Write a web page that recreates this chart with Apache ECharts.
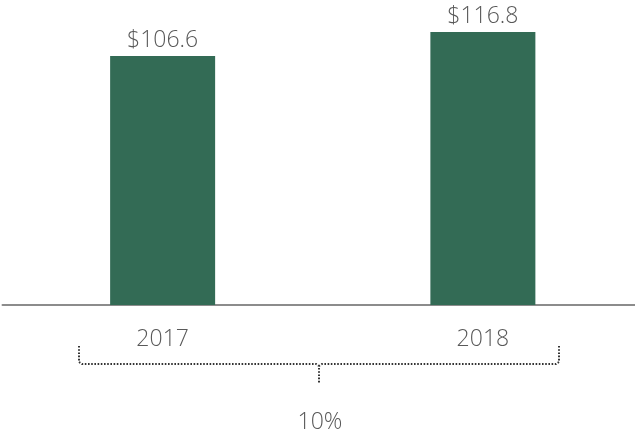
<!DOCTYPE html>
<html>
<head>
<meta charset="utf-8">
<script src="https://cdn.jsdelivr.net/npm/echarts@6/dist/echarts.min.js"></script>
<style>
  html, body { margin: 0; padding: 0; background: #fff; overflow: hidden; }
  #chart { width: 643px; height: 433px; }
</style>
</head>
<body>
<div id="chart"></div>
<script>
// Revenue by year, $ billions
const years = ['2017', '2018'];
const revenue = [106.6, 116.8];
const growthLabel = '10%';

const FONT = "'Open Sans', 'Noto Sans', sans-serif";
const TEXT_COLOR = '#595959';

const chart = echarts.init(document.getElementById('chart'), null, { renderer: 'canvas' });

const option = {
  animation: false,
  grid: { left: 2.5, right: 0, top: 24.6, bottom: 128 },
  xAxis: {
    type: 'category',
    data: years,
    axisLine: { lineStyle: { color: '#8c8c8c', width: 2 } },
    axisTick: { show: false },
    axisLabel: { color: TEXT_COLOR, fontFamily: FONT, fontWeight: 300, fontSize: 23, margin: 23 }
  },
  yAxis: {
    type: 'value',
    min: 0,
    max: 120,
    show: false,
    splitLine: { show: false }
  },
  series: [{
    type: 'bar',
    data: revenue,
    barWidth: 105,
    itemStyle: { color: '#336b55' },
    label: {
      show: true,
      position: 'top',
      distance: 4,
      color: TEXT_COLOR,
      fontFamily: FONT,
      fontWeight: 300,
      fontSize: 23,
      formatter: p => '$' + p.value.toFixed(1)
    }
  }]
};
chart.setOption(option);

// Dotted brace spanning both years, with the growth rate beneath it
const dot = { stroke: '#333', lineWidth: 2, lineDash: [1.6, 1.6] };
const leftX = 79, rightX = 559, midX = 319;
const topY = 346, barY = 364, tipY = 383;
chart.setOption({
  graphic: [
    { type: 'polyline', shape: { points: [[leftX, topY], [leftX, barY - 2], [leftX + 3, barY], [midX - 3, barY], [midX, barY + 2], [midX, tipY]] }, style: Object.assign({ fill: null }, dot) },
    { type: 'polyline', shape: { points: [[rightX, topY], [rightX, barY - 2], [rightX - 3, barY], [midX + 3, barY], [midX, barY + 2]] }, style: Object.assign({ fill: null }, dot) },
    { type: 'text', x: 320, y: 411, style: { text: growthLabel, fill: TEXT_COLOR, font: '300 23px ' + FONT, align: 'center' } }
  ]
});
</script>
</body>
</html>
